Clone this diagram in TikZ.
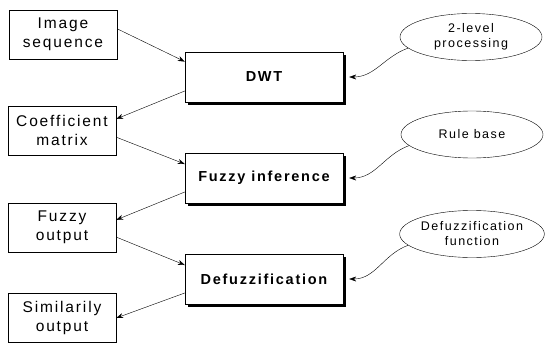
\documentclass[tikz,border=0pt]{standalone}
\usepackage{fontspec}
\setmainfont{Liberation Sans}[LetterSpace=12]
\usetikzlibrary{arrows.meta,shapes.geometric,shadows}

\begin{document}
\begin{tikzpicture}[x=1pt,y=-1pt,
    leftbox/.style={draw,thin,align=center,minimum width=108pt,minimum height=49pt,
      inner sep=0pt,font=\fontsize{15.5pt}{19pt}\selectfont},
    procbox/.style={draw,thin,fill=white,minimum width=158pt,minimum height=50pt,
      inner sep=0pt,font=\bfseries\fontsize{14.5pt}{17pt}\selectfont,
      drop shadow={shadow xshift=3pt,shadow yshift=-3pt,fill=black,opacity=1}},
    paramell/.style={draw,thin,ellipse,align=center,minimum width=142pt,minimum height=47pt,
      inner sep=0pt,font=\fontsize{12.5pt}{15pt}\selectfont},
    arr/.style={-{Stealth[length=7pt,width=5pt]},thin}]
  \useasboundingbox (0,0) rectangle (545,345);
  % left column
  \node[leftbox] (imgseq) at (63,34.5) {Image\\sequence};
  \node[leftbox] (coeff) at (62,130.5) {Coefficient\\matrix};
  \node[leftbox] (fuzout) at (62,227.5) {Fuzzy\\output};
  \node[leftbox] (simout) at (62,318) {Similarily\\output};
  % processing steps
  \node[procbox] (dwt) at (264,77) {DWT};
  \node[procbox] (fuzinf) at (264,178) {Fuzzy inference};
  \node[procbox] (defuz) at (264,279) {Defuzzification};
  % parameters
  \node[paramell] (twolev) at (471,37) {2-level\\processing};
  \node[paramell] (rules) at (472,134.5) {Rule base};
  \node[paramell] (deffun) at (472,234) {Defuzzification\\function};
  % main flow
  \draw[arr] (imgseq.6) -- (dwt.169);
  \draw[arr] (dwt.190) -- (coeff.12);
  \draw[arr] (coeff.-7) -- (fuzinf.170);
  \draw[arr] (fuzinf.190) -- (fuzout.8);
  \draw[arr] (fuzout.-10) -- (defuz.170);
  \draw[arr] (defuz.190) -- (simout.0);
  % parameter inputs
  \draw[arr] (twolev.190) to[out=200,in=0] ([xshift=6pt]dwt.east);
  \draw[arr] (rules.190) to[out=200,in=0] ([xshift=6pt]fuzinf.east);
  \draw[arr] (deffun.190) to[out=200,in=0] ([xshift=6pt]defuz.east);
\end{tikzpicture}
\end{document}
